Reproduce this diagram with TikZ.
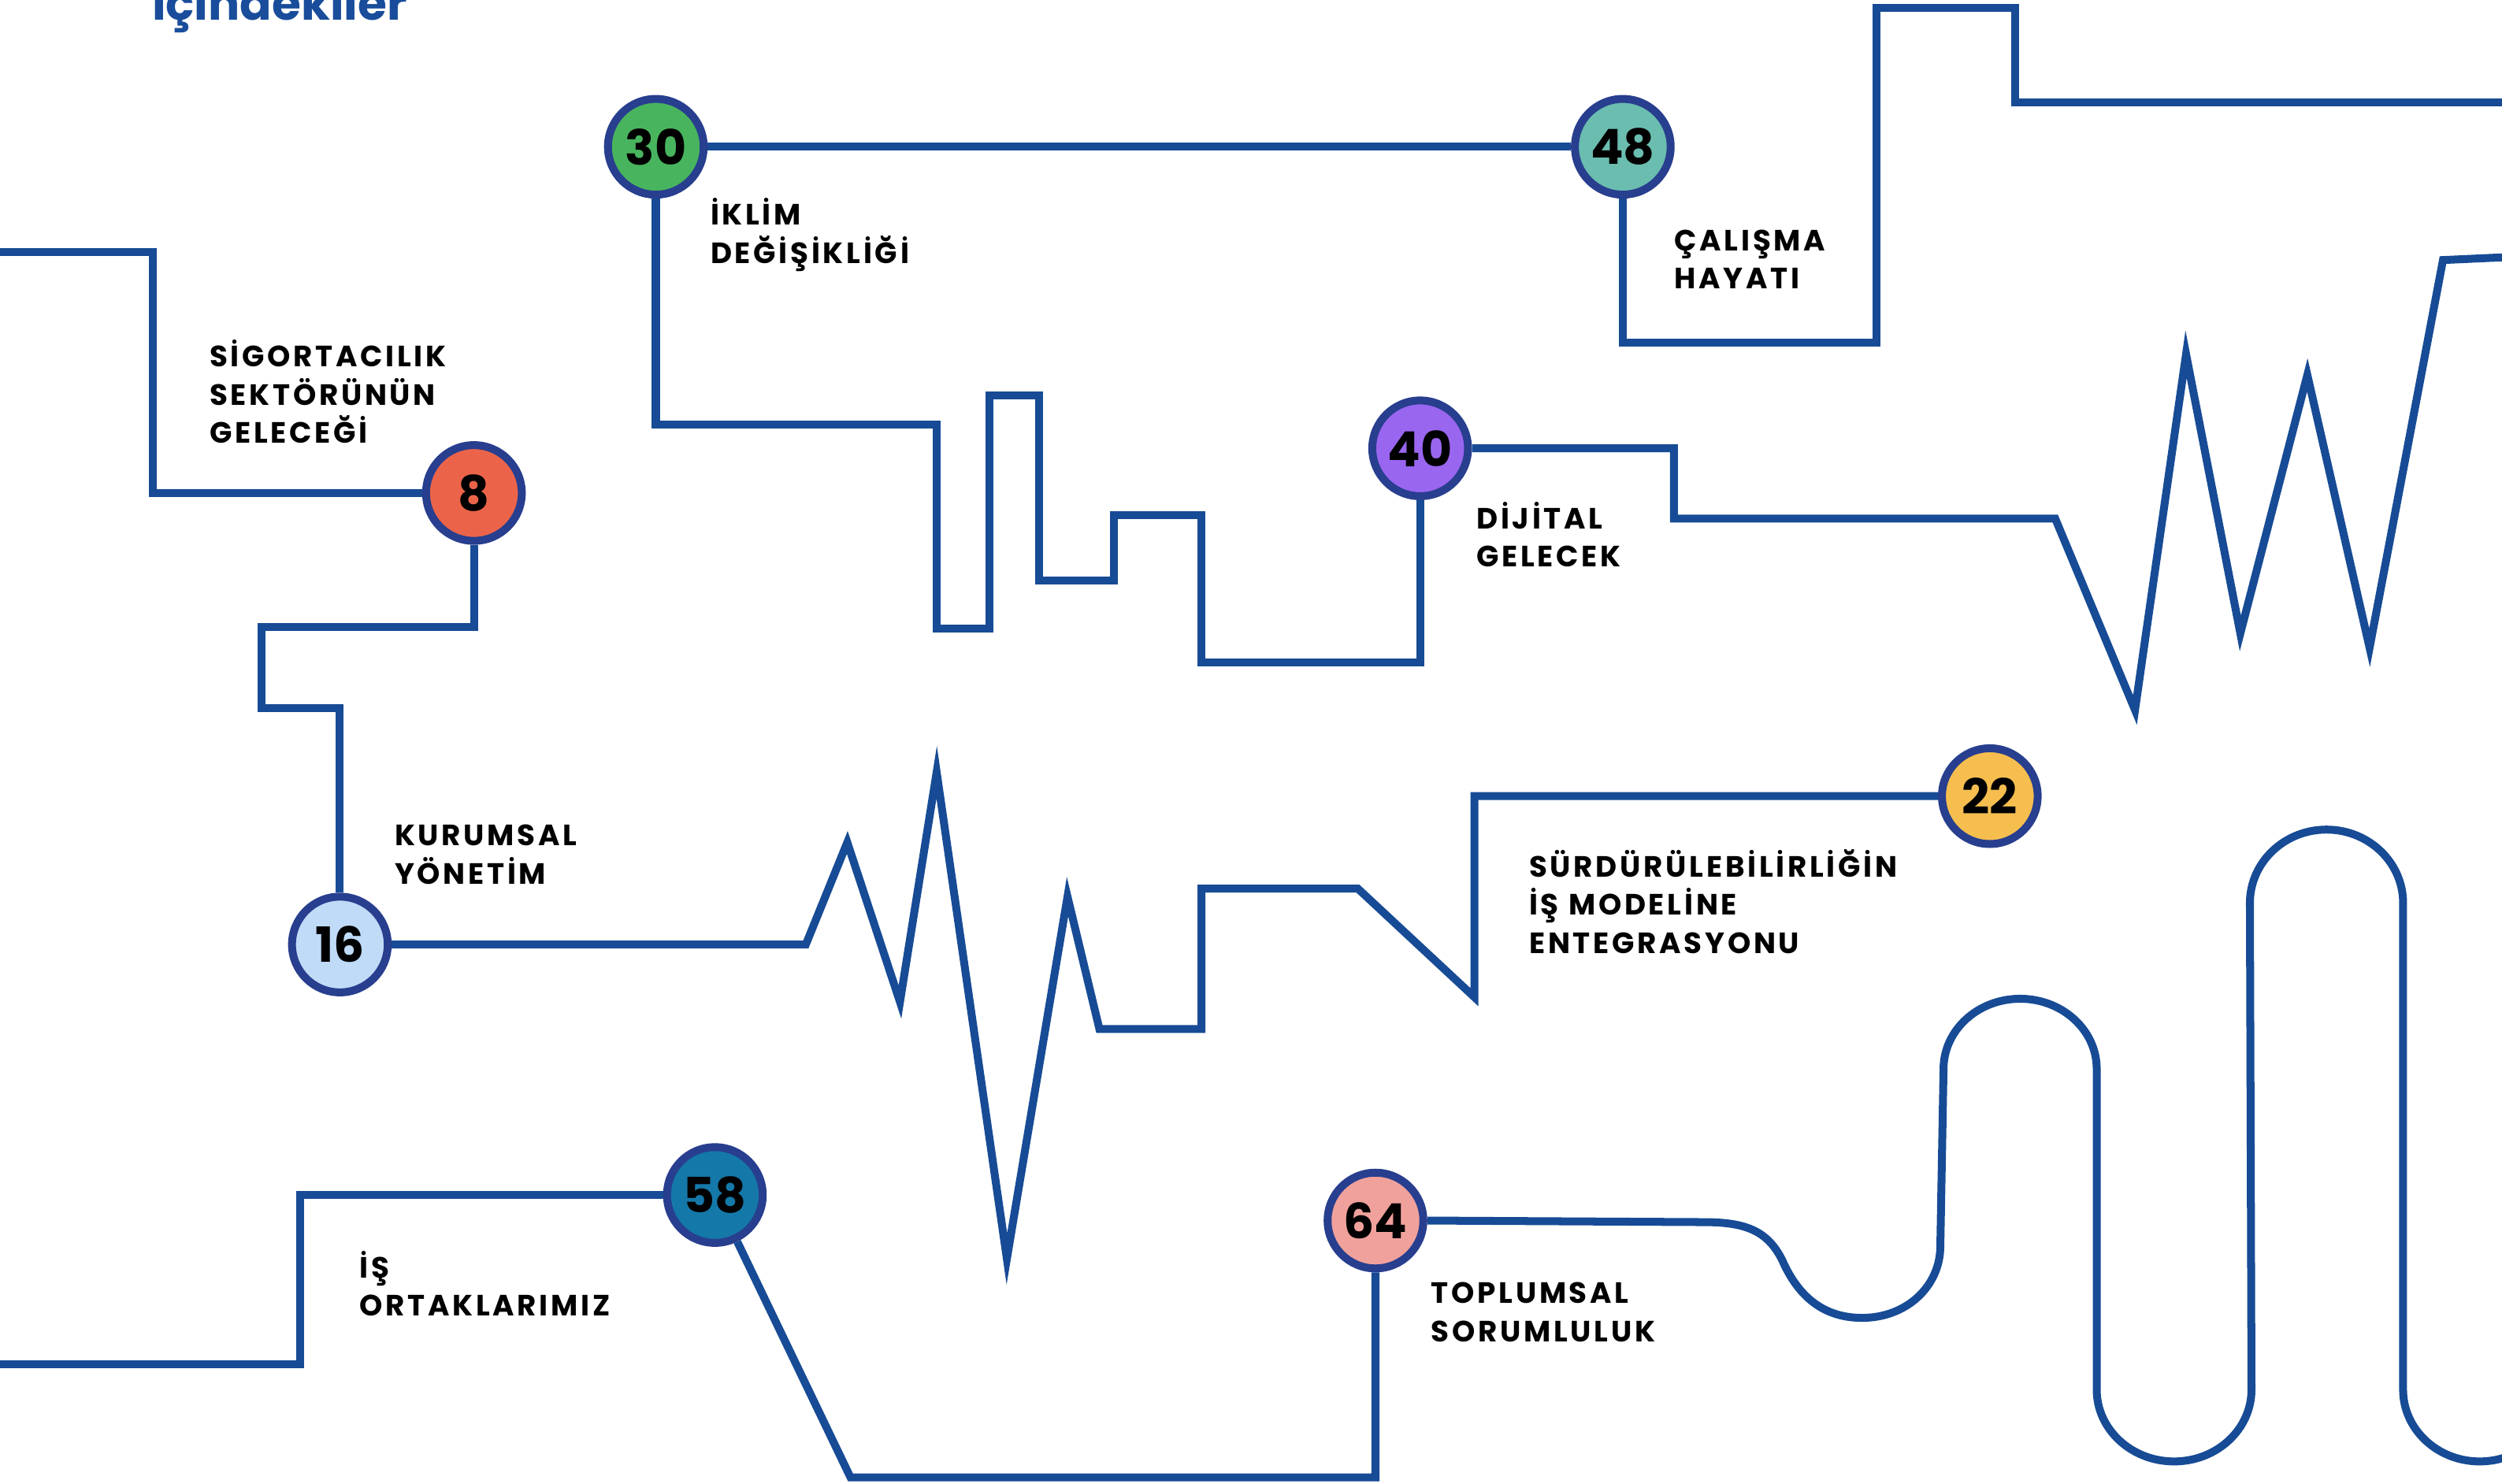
\documentclass[tikz,border=0pt]{standalone}
\usepackage{fontspec}
\setmainfont{Poppins}
\newfontfamily\labfont{Poppins}[LetterSpace=10]
\definecolor{lineblue}{RGB}{23,75,149}
\definecolor{ringblue}{RGB}{40,62,142}
\definecolor{titleblue}{RGB}{25,77,155}
\definecolor{cgreen}{RGB}{72,181,94}
\definecolor{cteal}{RGB}{106,189,175}
\definecolor{corange}{RGB}{235,100,73}
\definecolor{cpurple}{RGB}{153,102,240}
\definecolor{clight}{RGB}{192,219,247}
\definecolor{cyellow}{RGB}{245,190,79}
\definecolor{cdeep}{RGB}{20,120,168}
\definecolor{cpink}{RGB}{240,161,156}
\begin{document}
\begin{tikzpicture}[x=0.020255cm,y=-0.020255cm,
  ln/.style={draw=lineblue,line width=2.85pt,line join=miter},
  num/.style={circle,draw=ringblue,line width=2.85pt,minimum size=1.215cm,inner sep=0pt,
    font=\fontsize{17.5}{17.5}\selectfont\bfseries},
  lab/.style={anchor=base west,align=left,text width=8cm,inner sep=0pt,
    font=\labfont\fontsize{10.6}{13.8}\selectfont\bfseries}]
\useasboundingbox (0,0) rectangle (1568,930);
\clip (0,0) rectangle (1568,930);

% title
\node[anchor=base west,inner sep=0pt,text=titleblue,font=\fontsize{17}{17}\selectfont\bfseries] (title) at (95,12.5) {İçindekiler};

% circles
\node[num,fill=cgreen]  (c30) at (411,92)  {30};
\node[num,fill=cteal]   (c48) at (1017,92) {48};
\node[num,fill=corange] (c8)  at (297,309) {8};
\node[num,fill=cpurple] (c40) at (890,281) {40};
\node[num,fill=clight]  (c16) at (213,592) {16};
\node[num,fill=cyellow] (c22) at (1247,499) {22};
\node[num,fill=cdeep]   (c58) at (448,749) {58};
\node[num,fill=cpink]   (c64) at (862,765) {64};

% labels
\node[lab] (l30) at (445,141) {İKLİM\\DEĞİŞİKLİĞİ};
\node[lab] (l8)  at (131,230) {SİGORTACILIK\\SEKTÖRÜNÜN\\GELECEĞİ};
\node[lab] (l48) at (1049,157) {ÇALIŞMA\\HAYATI};
\node[lab] (l40) at (925,331.5) {DİJİTAL\\GELECEK};
\node[lab] (l16) at (247,530) {KURUMSAL\\YÖNETİM};
\node[lab] (l58) at (225,801) {İŞ\\ORTAKLARIMIZ};
\node[lab] (l22) at (958,549.6) {SÜRDÜRÜLEBİLİRLİĞİN\\İŞ MODELİNE\\ENTEGRASYONU};
\node[lab] (l64) at (896.6,817) {TOPLUMSAL\\SORUMLULUK};

% free ends
\coordinate (a0) at (-5,158);
\coordinate (b1) at (1575,64);
\coordinate (e1) at (1575,161);
\coordinate (d0) at (-5,855);

% connectors
\draw[ln] (a0) -- (96,158) -- (96,309) -- (c8.west);
\draw[ln] (c8.south) -- (297,393) -- (164,393) -- (164,444) -- (213,444) -- (c16.north);
\draw[ln] (c16.east) -- (505,592) -- (531,528) -- (564,628) -- (587,484) -- (631,789)
  -- (669,562) -- (689,645) -- (753,645) -- (753,557) -- (851,557) -- (924,625) -- (924,499) -- (c22.west);

\draw[ln] (c30.east) -- (c48.west);
\draw[ln] (c30.south) -- (411,266) -- (587,266) -- (587,394) -- (620,394) -- (620,248) -- (651,248)
  -- (651,364) -- (698,364) -- (698,323) -- (753,323) -- (753,415) -- (890,415) -- (c40.south);
\draw[ln] (c48.south) -- (1017,215) -- (1176,215) -- (1176,5) -- (1263,5) -- (1263,64) -- (b1);
\draw[ln] (c40.east) -- (1049,281) -- (1049,325) -- (1288,325) -- (1338,445) -- (1370,222)
  -- (1404,397) -- (1446,235) -- (1485,406) -- (1531,163) -- (e1);

\draw[ln] (d0) -- (188,855) -- (188,749) -- (c58.west);
\draw[ln] (c58) -- (533,926) -- (862,926) -- (c64.south);
\draw[ln] (c64.east) -- (1068,766) .. controls (1095,766) and (1108,772) .. (1117,790)
  .. controls (1128,815) and (1145,826) .. (1167,826)
  .. controls (1195,826) and (1216,806) .. (1216,781) -- (1218,670)
  arc[start angle=180,end angle=0,x radius=0.972cm,y radius=0.891cm] -- (1314,871)
  arc[start angle=180,end angle=360,x radius=0.982cm,y radius=0.911cm] -- (1410,566)
  arc[start angle=180,end angle=0,x radius=0.972cm,y radius=0.932cm] -- (1506,871)
  arc[start angle=180,end angle=360,x radius=0.972cm,y radius=0.911cm];
\end{tikzpicture}
\end{document}
